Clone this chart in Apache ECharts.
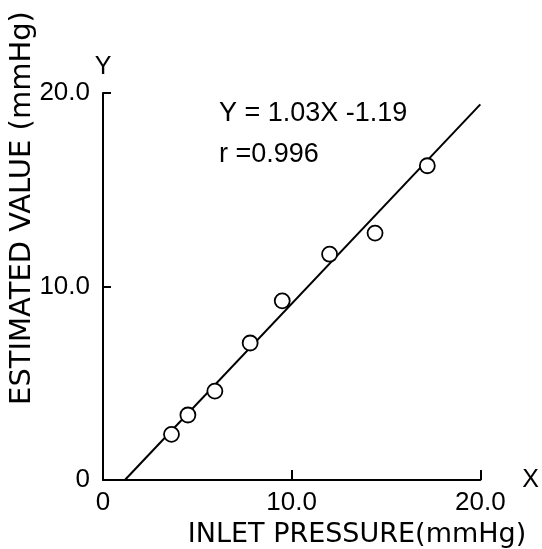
<!DOCTYPE html>
<html>
<head>
<meta charset="utf-8">
<script src="https://cdn.jsdelivr.net/npm/echarts@6/dist/echarts.min.js"></script>
<style>
  html, body { margin: 0; padding: 0; background: #fff; }
  #chart { width: 542px; height: 549px; }
</style>
</head>
<body>
<div id="chart"></div>
<script>
// measured points (inlet pressure vs estimated value, mmHg)
const inletPressure = [3.63, 4.50, 5.93, 7.80, 9.50, 12.01, 14.42, 17.19];
const estimatedValue = [2.36, 3.36, 4.59, 7.08, 9.26, 11.67, 12.76, 16.24];

// regression line Y = 1.03X - 1.19, end points as drawn
const fitX = [1.16, 20.0];
const fitY = [0, 19.41];

// tick labels
const tickValues = [0, 10, 20];
const tickLabels = ['0', '10.0', '20.0'];

const font = 'Liberation Sans';
const labelFor = v => tickLabels[tickValues.indexOf(v)] || '';

const myChart = echarts.init(document.getElementById('chart'), null, { renderer: 'canvas' });

myChart.setOption({
    backgroundColor: '#fff',
    animation: false,
    grid: { left: 103, right: 60, top: 93, bottom: 69 },
    xAxis: {
        type: 'value',
        min: 0, max: 20, interval: 10,
        name: 'X',
        nameLocation: 'end',
        nameGap: 42,
        nameTextStyle: { fontFamily: font, fontSize: 25, color: '#000', verticalAlign: 'middle' },
        splitLine: { show: false },
        axisLine: { show: true, lineStyle: { color: '#000', width: 2 } },
        axisTick: { show: true, inside: true, length: 10, lineStyle: { color: '#000', width: 2 } },
        axisLabel: { margin: 10, fontFamily: font, fontSize: 26, color: '#000', formatter: labelFor }
    },
    yAxis: {
        type: 'value',
        min: 0, max: 20, interval: 10,
        name: 'Y',
        nameLocation: 'end',
        nameGap: 7,
        nameTextStyle: { fontFamily: font, fontSize: 25, color: '#000', align: 'center' },
        splitLine: { show: false },
        axisLine: { show: true, lineStyle: { color: '#000', width: 2 } },
        axisTick: { show: true, inside: true, length: 8, lineStyle: { color: '#000', width: 2 } },
        axisLabel: { margin: 13, fontFamily: font, fontSize: 26, color: '#000', formatter: labelFor }
    },
    graphic: [
        {
            type: 'text',
            x: 22, y: 208,
            rotation: Math.PI / 2,
            style: {
                text: 'ESTIMATED VALUE (mmHg)',
                fontFamily: 'DejaVu Sans', fontSize: 29, fill: '#000',
                align: 'center', verticalAlign: 'middle'
            }
        },
        {
            type: 'text',
            x: 357, y: 535,
            style: {
                text: 'INLET PRESSURE(mmHg)',
                fontFamily: 'DejaVu Sans', fontSize: 27, fill: '#000',
                align: 'center', verticalAlign: 'middle'
            }
        },
        {
            type: 'text',
            x: 219, y: 114,
            style: {
                text: 'Y = 1.03X -1.19',
                fontFamily: font, fontSize: 27, fill: '#000',
                align: 'left', verticalAlign: 'middle'
            }
        },
        {
            type: 'text',
            x: 219, y: 155,
            style: {
                text: 'r =0.996',
                fontFamily: font, fontSize: 27, fill: '#000',
                align: 'left', verticalAlign: 'middle'
            }
        }
    ],
    series: [
        {
            type: 'line',
            data: fitX.map((x, i) => [x, fitY[i]]),
            symbol: 'none',
            lineStyle: { color: '#000', width: 2 },
            z: 2
        },
        {
            type: 'scatter',
            data: inletPressure.map((x, i) => [x, estimatedValue[i]]),
            symbol: 'circle',
            symbolSize: 15,
            itemStyle: { color: '#fff', borderColor: '#000', borderWidth: 1.8, opacity: 1 },
            z: 3
        }
    ]
});
</script>
</body>
</html>
